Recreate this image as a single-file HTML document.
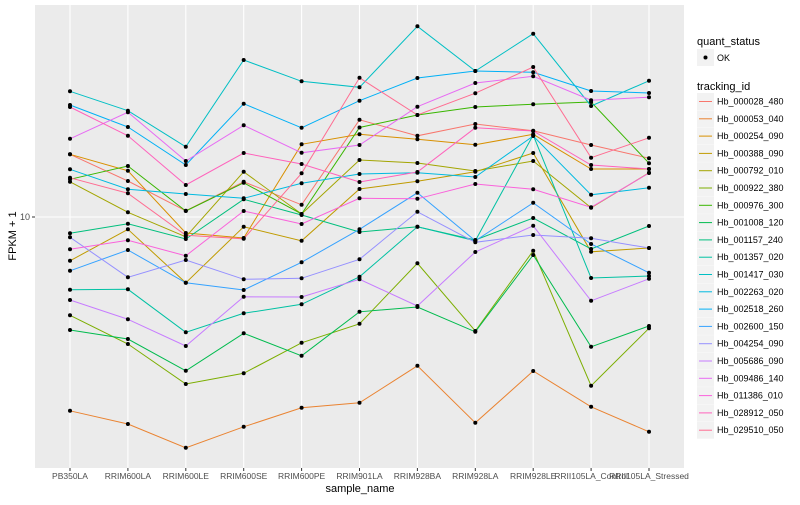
<!DOCTYPE html>
<html><head><meta charset="utf-8"><style>
body{margin:0;background:#fff;}
svg text{font-family:"Liberation Sans",sans-serif;}
</style></head><body>
<svg id="chart" width="800" height="500" xmlns="http://www.w3.org/2000/svg">
<rect x="35" y="5" width="649" height="463" fill="#ebebeb"/>
<g id="grid"></g>
<g id="lines"></g>
<g id="points"></g>
<g id="axes"></g>
<g id="legend"></g>
</svg>
<script>
const categories = ["PB350LA","RRIM600LA","RRIM600LE","RRIM600SE","RRIM600PE","RRIM901LA","RRIM928BA","RRIM928LA","RRIM928LE","RRII105LA_Control","RRII105LA_Stressed"];
const trackingIds = ["Hb_000028_480","Hb_000053_040","Hb_000254_090","Hb_000388_090","Hb_000792_010","Hb_000922_380","Hb_000976_300","Hb_001008_120","Hb_001157_240","Hb_001357_020","Hb_001417_030","Hb_002263_020","Hb_002518_260","Hb_002600_150","Hb_004254_090","Hb_005686_090","Hb_009486_140","Hb_011386_010","Hb_028912_050","Hb_029510_050"];
const seriesColors = ["#F8766D","#EA8331","#D89000","#C09B00","#A3A500","#7CAE00","#39B600","#00BB4E","#00BF7D","#00C1A3","#00BFC4","#00BAE0","#00B0F6","#35A2FF","#9590FF","#C77CFF","#E76BF3","#FA62DB","#FF62BC","#FF6C91"];
const yTickValues = [10];
const yTickLabels = ["10"];
// log10(FPKM + 1) per series
const hb_000028_480 = [1.251,1.144,1.025,1.141,1.049,1.389,1.325,1.372,1.345,1.288,1.235];
const hb_000053_040 = [0.225,0.172,0.077,0.161,0.237,0.257,0.405,0.177,0.384,0.241,0.141];
const hb_000254_090 = [1.251,1.185,0.936,0.916,1.291,1.331,1.311,1.289,1.331,1.192,1.192];
const hb_000388_090 = [0.825,0.951,0.737,0.961,0.905,1.112,1.143,1.181,1.256,0.861,0.876];
const hb_000792_010 = [1.141,1.019,0.921,1.181,1.012,1.228,1.216,1.184,1.224,1.037,1.177];
const hb_000922_380 = [0.607,0.492,0.332,0.375,0.497,0.573,0.815,0.544,0.865,0.325,0.555];
const hb_000976_300 = [1.151,1.204,1.024,1.137,1.012,1.358,1.408,1.440,1.451,1.460,1.215];
const hb_001008_120 = [0.548,0.512,0.385,0.535,0.445,0.621,0.640,0.541,0.848,0.481,0.564];
const hb_001157_240 = [0.935,0.973,0.912,1.071,1.008,0.940,0.961,0.908,0.996,0.872,0.964];
const hb_001357_020 = [0.709,0.711,0.539,0.615,0.651,0.761,0.961,0.905,1.328,0.756,0.764];
const hb_001417_030 = [1.503,1.425,1.281,1.628,1.543,1.519,1.763,1.584,1.733,1.444,1.545];
const hb_002263_020 = [1.191,1.111,1.092,1.075,1.135,1.172,1.177,1.160,1.324,1.089,1.117];
const hb_002518_260 = [1.448,1.360,1.208,1.453,1.357,1.465,1.556,1.584,1.579,1.504,1.496];
const hb_002600_150 = [0.785,0.868,0.737,0.708,0.819,0.951,1.097,0.905,1.057,0.892,0.777];
const hb_004254_090 = [0.919,0.759,0.828,0.751,0.755,0.831,1.021,0.899,0.928,0.915,0.876];
const hb_005686_090 = [0.668,0.591,0.484,0.681,0.680,0.751,0.644,0.860,0.965,0.665,0.753];
const hb_009486_140 = [1.313,1.419,1.224,1.367,1.257,1.288,1.441,1.536,1.563,1.467,1.479];
const hb_011386_010 = [0.871,0.907,0.845,1.024,0.972,1.075,1.073,1.132,1.111,1.039,1.176];
const hb_028912_050 = [1.440,1.325,1.128,1.256,1.212,1.140,1.180,1.357,1.344,1.208,1.192];
const hb_029510_050 = [1.157,1.095,0.927,0.913,1.175,1.557,1.408,1.495,1.600,1.237,1.317];
const allSeries = [hb_000028_480,hb_000053_040,hb_000254_090,hb_000388_090,hb_000792_010,hb_000922_380,hb_000976_300,hb_001008_120,hb_001157_240,hb_001357_020,hb_001417_030,hb_002263_020,hb_002518_260,hb_002600_150,hb_004254_090,hb_005686_090,hb_009486_140,hb_011386_010,hb_028912_050,hb_029510_050];

const NS = "http://www.w3.org/2000/svg";
function mk(tag, attrs, parent){const e=document.createElementNS(NS,tag);for(const k in attrs)e.setAttribute(k,attrs[k]);parent.appendChild(e);return e;}
function xScale(i){return 70 + i*57.9;}
function yScale(lv){return 217 - (lv-1)*250;}

const grid=document.getElementById('grid'), lines=document.getElementById('lines'), pts=document.getElementById('points'), axes=document.getElementById('axes'), leg=document.getElementById('legend');

categories.forEach((c,i)=>{
  const g=mk('line',{x1:xScale(i),x2:xScale(i),y1:5,y2:468,stroke:'#fff','stroke-width':1.1},grid);
  
  
  const t=mk('line',{x1:xScale(i),x2:xScale(i),y1:468,y2:471,stroke:'#333','stroke-width':1},axes);
  
  
  const l=mk('text',{x:xScale(i),y:479,'font-size':8.5,fill:'#4d4d4d','text-anchor':'middle'},axes);
  l.textContent=c;
  
  
});
yTickValues.forEach((v,i)=>{
  const y=yScale(Math.log10(v));
  const g=mk('line',{x1:35,x2:684,y1:y,y2:y,stroke:'#fff','stroke-width':1.1},grid);
  
  
  const t=mk('line',{x1:32,x2:35,y1:y,y2:y,stroke:'#333','stroke-width':1},axes);
  
  
  const l=mk('text',{x:30,y:y+3,'font-size':9,fill:'#4d4d4d','text-anchor':'end'},axes);
  l.textContent=yTickLabels[i];
  
  
});
const xt=mk('text',{x:360,y:492,'font-size':11,fill:'#000','text-anchor':'middle'},axes);
xt.textContent='sample_name';


const yt=mk('text',{x:16,y:236,'font-size':11,fill:'#000','text-anchor':'middle',transform:'rotate(-90 16 236)'},axes);
yt.textContent='FPKM + 1';



allSeries.forEach((s,si)=>{
  const d=s.map((v,i)=>(i?'L':'M')+xScale(i).toFixed(1)+' '+yScale(v).toFixed(1)).join(' ');
  const p=mk('path',{d:d,fill:'none',stroke:seriesColors[si],'stroke-width':1},lines);
  
  
  s.forEach((v,i)=>{
    const c=mk('circle',{cx:xScale(i),cy:yScale(v),r:2,fill:'#000'},pts);
    
    
  });
});

// legend
const t1=mk('text',{x:697,y:45,'font-size':11,fill:'#000'},leg);
t1.textContent='quant_status';


const kb=mk('rect',{x:697,y:49,width:17,height:17,fill:'#f2f2f2'},leg);


const kc=mk('circle',{cx:705.5,cy:57.5,r:2,fill:'#000'},leg);


const ko=mk('text',{x:717,y:61,'font-size':9,fill:'#000'},leg);
ko.textContent='OK';


const t2=mk('text',{x:697,y:90,'font-size':11,fill:'#000'},leg);
t2.textContent='tracking_id';


trackingIds.forEach((id,i)=>{
  const cy=101.5+i*17.3;
  const r=mk('rect',{x:697,y:cy-8.5,width:17,height:17,fill:'#f2f2f2'},leg);
  
  
  const l=mk('line',{x1:699,x2:712,y1:cy,y2:cy,stroke:seriesColors[i],'stroke-width':1},leg);
  
  
  const t=mk('text',{x:717,y:cy+3,'font-size':9,fill:'#000'},leg);
  t.textContent=id;
  
  
});
</script>
</body></html>
